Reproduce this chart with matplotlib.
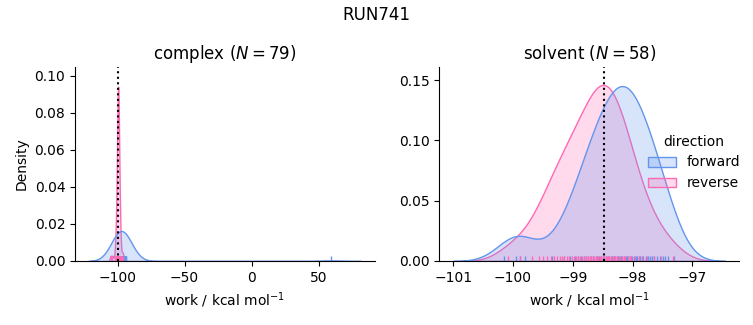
import matplotlib
matplotlib.use("Agg")
import matplotlib.pyplot as plt
import pandas as pd
import seaborn as sns

run_name = "RUN741"
phases = ["complex", "solvent"]
n_samples = {"complex": 79, "solvent": 58}
dg_estimate = {"complex": -99.6, "solvent": -98.48}
y_top = {"complex": 0.1048, "solvent": 0.161}
palette = {"forward": "cornflowerblue", "reverse": "hotpink"}

# work values (kcal/mol)
complex_forward = [
    -99.5, -99.3, -99.2, -99.1, -99.0, -98.9, -98.9, -98.8, -98.7, -98.7,
    -98.6, -98.5, -98.5, -98.4, -98.4, -98.3, -98.3, -98.2, -98.2, -98.1,
    -98.1, -98.0, -98.0, -97.9, -97.9, -97.9, -97.8, -97.8, -97.7, -97.7,
    -97.7, -97.6, -97.6, -97.5, -97.5, -97.5, -97.4, -97.4, -97.3, -97.3,
    -97.3, -97.2, -97.2, -97.1, -97.1, -97.0, -97.0, -96.9, -96.9, -96.8,
    -96.8, -96.7, -96.6, -96.6, -96.5, -96.4, -96.3, -96.3, -96.2, -96.1,
    -96.0, -95.9, -95.8, -95.7, -95.6, -95.5, -95.4, -95.3, -95.1, -95.0,
    -94.8, -94.7, -94.5, -94.3, -94.1, -93.9, -93.6, -97.0, 59.5,
]
complex_reverse = [
    -105.2, -103.8,
    -101.93, -101.53, -101.15, -101.02, -100.82, -100.73, -100.66, -100.53,
    -100.46, -100.36, -100.31, -100.21, -100.17, -100.08, -100.04, -100.01,
    -99.93, -99.89, -99.86, -99.80, -99.76, -99.73, -99.71, -99.665, -99.647,
    -99.633, -99.616, -99.606, -99.6,
    -99.594, -99.584, -99.567, -99.553, -99.535, -99.493, -99.47, -99.44,
    -99.40, -99.34, -99.31, -99.27, -99.19, -99.16, -99.11, -99.04, -99.03,
    -98.98, -98.89, -98.83, -98.73, -98.67, -98.54, -98.47, -98.38, -98.18,
    -98.05, -97.65,
    -96.6, -95.9,
]
solvent_forward = [
    -100.15, -99.95, -99.88, -99.80, -99.35, -99.15, -99.05,
    -98.97, -98.92, -98.86, -98.81,
    -98.78, -98.74, -98.70, -98.66, -98.62,
    -98.59, -98.56, -98.53, -98.50, -98.47, -98.44, -98.41,
    -98.39, -98.36, -98.34, -98.31, -98.29, -98.26, -98.24, -98.21,
    -98.19, -98.17, -98.15, -98.11, -98.09, -98.07, -98.05, -98.02,
    -98.01, -97.98, -97.95, -97.93, -97.90, -97.87, -97.84,
    -97.82, -97.78, -97.75, -97.71, -97.67,
    -97.64, -97.59, -97.54, -97.49,
    -97.46, -97.40, -97.30,
]
solvent_reverse = [
    -100.08, -99.88, -99.68, -99.56, -99.49, -99.43,
    -99.37, -99.32, -99.27, -99.22,
    -99.18, -99.14, -99.10, -99.06, -99.02,
    -98.98, -98.95, -98.91, -98.88, -98.85, -98.82,
    -98.78, -98.75, -98.72, -98.69, -98.66, -98.64, -98.61,
    -98.59, -98.57, -98.55, -98.52, -98.50, -98.48, -98.45, -98.43, -98.41,
    -98.39, -98.36, -98.33, -98.31, -98.29, -98.26, -98.23, -98.21,
    -98.18, -98.15, -98.12, -98.08, -98.05, -98.02,
    -97.96, -97.90, -97.84, -97.76, -97.65, -97.52, -97.33,
]


def to_frame(phase, direction, values):
    return pd.DataFrame({"phase": phase, "direction": direction, "work": values})


df = pd.concat([
    to_frame("complex", "forward", complex_forward),
    to_frame("complex", "reverse", complex_reverse),
    to_frame("solvent", "forward", solvent_forward),
    to_frame("solvent", "reverse", solvent_reverse),
], ignore_index=True)

g = sns.displot(
    df, x="work", hue="direction", col="phase", col_order=phases,
    kind="kde", fill=True, rug=True, palette=palette,
    facet_kws=dict(sharex=False, sharey=False),
)
g.set_axis_labels("work / kcal mol$^{-1}$", "Density")

for ax, phase in zip(g.axes.flat, phases):
    ax.set_title(f"{phase} ($N={n_samples[phase]}$)")
    ax.set_ylim(0, y_top[phase])
    ax.axvline(dg_estimate[phase], color="k", ls=":", lw=1.5)

fig = g.figure
fig.suptitle(run_name)
fig.set_size_inches(7.53, 3.25)
fig.subplots_adjust(left=0.0996, right=0.9814, bottom=0.197, top=0.794, wspace=0.2167)
fig.savefig("out.png", dpi=100)
